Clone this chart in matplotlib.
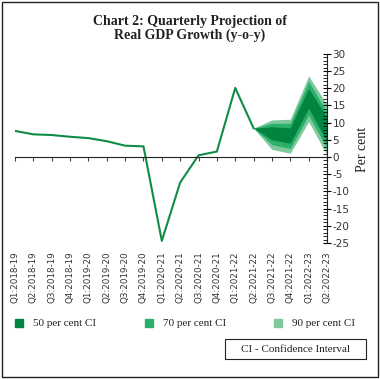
import matplotlib.pyplot as plt
from matplotlib.patches import Rectangle

plt.rcParams["axes.unicode_minus"] = False

# actual growth (per cent, y-o-y)
quarters = ["Q1:2018-19", "Q2:2018-19", "Q3:2018-19", "Q4:2018-19",
            "Q1:2019-20", "Q2:2019-20", "Q3:2019-20", "Q4:2019-20",
            "Q1:2020-21", "Q2:2020-21", "Q3:2020-21", "Q4:2020-21",
            "Q1:2021-22", "Q2:2021-22", "Q3:2021-22", "Q4:2021-22",
            "Q1:2022-23", "Q2:2022-23"]
actual = [7.6, 6.6, 6.4, 5.9, 5.5, 4.6, 3.3, 3.1, -24.4, -7.4, 0.5, 1.6, 20.1, 8.4]

# projection fan (from Q2:2021-22 onwards)
fan_idx = [13, 14, 15, 16, 17]
ci90_hi = [8.4, 10.8, 11.0, 23.6, 15.2]
ci70_hi = [8.4, 9.8, 9.8, 22.0, 13.0]
ci50_hi = [8.4, 8.8, 8.5, 20.0, 11.5]
ci50_lo = [8.4, 5.0, 4.0, 14.2, 4.5]
ci70_lo = [8.4, 3.6, 2.5, 12.2, 2.5]
ci90_lo = [8.4, 2.2, 1.1, 10.3, 0.6]

c50 = "#00843f"
c70 = "#2bb06c"
c90 = "#80c99c"
line_c = "#108c48"

fig = plt.figure(figsize=(3.80, 3.79), dpi=100)
ax = fig.add_axes([0.0395, 0.359, 0.821, 0.4987])

ax.fill_between(fan_idx, ci90_lo, ci90_hi, color=c90, lw=0)
ax.fill_between(fan_idx, ci70_lo, ci70_hi, color=c70, lw=0)
ax.fill_between(fan_idx, ci50_lo, ci50_hi, color=c50, lw=0)
ax.plot(range(len(actual)), actual, color=line_c, lw=1.5)

ax.set_xlim(0, 17)
ax.set_ylim(-25, 30)

for s in ["left", "top"]:
    ax.spines[s].set_visible(False)
ax.spines["bottom"].set_position(("data", 0))
ax.spines["bottom"].set_color("#222222")
ax.spines["right"].set_color("#222222")

ax.set_xticks(range(len(quarters)))
ax.tick_params(axis="x", direction="out", length=3, labelbottom=False, color="#444444")

sec = ax.secondary_xaxis("bottom")
sec.set_xticks(range(len(quarters)))
sec.set_xticklabels(quarters, rotation=90, fontsize=6.3, color="#333333")
sec.tick_params(length=0, pad=6)
sec.spines["bottom"].set_visible(False)

ax.yaxis.tick_right()
ax.set_yticks(range(-25, 31, 5))
ax.set_yticks(range(-25, 31, 1), minor=True)
ax.tick_params(axis="y", which="major", direction="inout", length=6, labelsize=7.5,
               labelcolor="#333333", pad=1)
ax.tick_params(axis="y", which="minor", direction="in", length=3)

fig.text(363 / 380, 1 - 149 / 379, "Per cent", rotation=90, ha="center", va="center",
         fontsize=10, family="Liberation Serif", color="#222222")

fig.text(0.5, 0.942, "Chart 2: Quarterly Projection of", ha="center", va="center",
         fontsize=10, fontweight="bold", family="Liberation Serif", color="#222222")
fig.text(0.5, 0.907, "Real GDP Growth (y-o-y)", ha="center", va="center",
         fontsize=10, fontweight="bold", family="Liberation Serif", color="#222222")

# legend
leg_y = 1 - 323 / 379
for x0, col, lab in [(15, c50, "50 per cent CI"), (145, c70, "70 per cent CI"),
                     (274, c90, "90 per cent CI")]:
    fig.patches.append(Rectangle((x0 / 380, leg_y - 4 / 379), 8 / 380, 8 / 379,
                                 color=col, transform=fig.transFigure))
    fig.text((x0 + 18) / 380, leg_y, lab, ha="left", va="center", fontsize=8,
             family="Liberation Serif", color="#222222")

fig.patches.append(Rectangle((225 / 380, 1 - 359 / 379), 141 / 380, 20 / 379,
                             fill=False, edgecolor="#222222", lw=0.8,
                             transform=fig.transFigure))
fig.text(295.5 / 380, 1 - 349 / 379, "CI - Confidence Interval", ha="center",
         va="center", fontsize=8, family="Liberation Serif", color="#222222")

# outer frame
fig.patches.append(Rectangle((0.004, 0.004), 0.99, 0.99, fill=False,
                             edgecolor="#222222", lw=1.0, transform=fig.transFigure))

fig.savefig("out.png", dpi=100)
